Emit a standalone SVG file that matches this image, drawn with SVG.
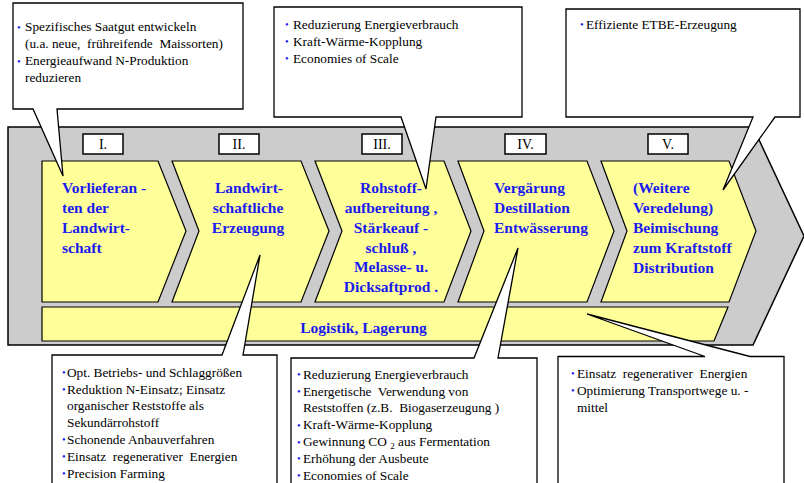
<svg xmlns="http://www.w3.org/2000/svg" width="804" height="483" viewBox="0 0 804 483">
<style>
.bg{fill:#CCCCCC;stroke:#000;stroke-width:1.5}
.ch{fill:#FFFF99;stroke:#000;stroke-width:1.2}
.num{fill:#fff;stroke:#000;stroke-width:1.5}
text{font-family:'Liberation Serif','Times New Roman','DejaVu Serif',serif}
.numt{font-size:14px;fill:#000;text-anchor:middle}
.st{font-size:15.5px;font-weight:bold;fill:#1A1AF0}
.mid{text-anchor:middle}
.co{fill:#fff;stroke:#000;stroke-width:1.3}
.ct{font-size:13.3px;fill:#000;white-space:pre}
.bu{font-size:10.5px;fill:#1A1AF0}
</style>

<g id="background">
<polygon class="bg" points="8,127 753,127 804,236 753,345 8,345"/>
</g>

<g id="stage1">
<rect class="num" x="83" y="134" width="40" height="20"/>
<text class="numt" x="103" y="149" font-family="Liberation Serif">I.</text>
<polygon class="ch" points="42,161 158,161 186,231 158,302 42,302"/>
<text class="st" x="62" y="193" font-family="Liberation Serif">Vorlieferan -</text>
<text class="st" x="62" y="213" font-family="Liberation Serif">ten der</text>
<text class="st" x="62" y="233" font-family="Liberation Serif">Landwirt-</text>
<text class="st" x="62" y="253" font-family="Liberation Serif">schaft</text>
</g>

<g id="stage2">
<rect class="num" x="219" y="134" width="40" height="20"/>
<text class="numt" x="239" y="149" font-family="Liberation Serif">II.</text>
<polygon class="ch" points="172,161 301,161 329,231 301,302 172,302 199,231"/>
<text class="st mid" x="249" y="193" font-family="Liberation Serif">Landwirt-</text>
<text class="st mid" x="248" y="213" font-family="Liberation Serif">schaftliche</text>
<text class="st mid" x="248" y="233" font-family="Liberation Serif">Erzeugung</text>
</g>

<g id="stage3">
<rect class="num" x="362" y="134" width="40" height="20"/>
<text class="numt" x="382" y="149" font-family="Liberation Serif">III.</text>
<polygon class="ch" points="315,161 444,161 471,231 444,302 315,302 342,231"/>
<text class="st mid" x="391" y="193" font-family="Liberation Serif">Rohstoff-</text>
<text class="st mid" x="391" y="213" font-family="Liberation Serif">aufbereitung ,</text>
<text class="st mid" x="391" y="233" font-family="Liberation Serif">Stärkeauf -</text>
<text class="st mid" x="391" y="253" font-family="Liberation Serif">schluß ,</text>
<text class="st mid" x="391" y="272" font-family="Liberation Serif">Melasse- u.</text>
<text class="st mid" x="391" y="292" font-family="Liberation Serif">Dicksaftprod .</text>
</g>

<g id="stage4">
<rect class="num" x="505" y="134" width="41" height="20"/>
<text class="numt" x="525.5" y="149" font-family="Liberation Serif">IV.</text>
<polygon class="ch" points="458,161 587,161 614,231 587,302 458,302 484,231"/>
<text class="st" x="494" y="193" font-family="Liberation Serif">Vergärung</text>
<text class="st" x="494" y="213" font-family="Liberation Serif">Destillation</text>
<text class="st" x="494" y="233" font-family="Liberation Serif">Entwässerung</text>
</g>

<g id="stage5">
<rect class="num" x="648" y="134" width="40" height="20"/>
<text class="numt" x="668" y="149" font-family="Liberation Serif">V.</text>
<polygon class="ch" points="601,161 729,161 756,231 729,302 601,302 627,231"/>
<text class="st" x="633" y="193" font-family="Liberation Serif">(Weitere</text>
<text class="st" x="633" y="213" font-family="Liberation Serif">Veredelung)</text>
<text class="st" x="633" y="233" font-family="Liberation Serif">Beimischung</text>
<text class="st" x="633" y="253" font-family="Liberation Serif">zum Kraftstoff</text>
<text class="st" x="633" y="273" font-family="Liberation Serif">Distribution</text>
</g>

<g id="logistik">
<polygon class="ch" points="42,307 728,307 714,341 42,341"/>
<text class="st mid" x="363.5" y="333" font-family="Liberation Serif">Logistik, Lagerung</text>
</g>

<g id="connectors">
<g id="callout-top-left">
<path class="co" d="M13,3 H243 V109 H57 L63,176 L33,109 H13 Z"/>
<text class="bu" x="17" y="30.5" font-family="Liberation Serif">•</text>
<text class="ct" x="25" y="31" font-family="Liberation Serif">Spezifisches Saatgut entwickeln</text>
<text class="ct" x="25" y="48" font-family="Liberation Serif">(u.a. neue,  frühreifende  Maissorten)</text>
<text class="bu" x="17" y="64.5" font-family="Liberation Serif">•</text>
<text class="ct" x="25" y="65" font-family="Liberation Serif">Energieaufwand N-Produktion</text>
<text class="ct" x="25" y="82" font-family="Liberation Serif">reduzieren</text>
</g>

<g id="callout-top-mid">
<path class="co" d="M274,7 H522 V117 H436 L426,189 L401,117 H274 Z"/>
<text class="bu" x="285" y="28" font-family="Liberation Serif">•</text>
<text class="ct" x="293" y="28.5" font-family="Liberation Serif">Reduzierung Energieverbrauch</text>
<text class="bu" x="285" y="45" font-family="Liberation Serif">•</text>
<text class="ct" x="293" y="45.5" font-family="Liberation Serif">Kraft-Wärme-Kopplung</text>
<text class="bu" x="285" y="62" font-family="Liberation Serif">•</text>
<text class="ct" x="293" y="62.5" font-family="Liberation Serif">Economies of Scale</text>
</g>

<g id="callout-top-right">
<path class="co" d="M566,9 H800 V117 H775 L723,190 L753,117 H566 Z"/>
<text class="bu" x="580" y="28" font-family="Liberation Serif">•</text>
<text class="ct" x="586" y="28.5" font-family="Liberation Serif">Effiziente ETBE-Erzeugung</text>
</g>

<g id="callout-bottom-left">
<path class="co" d="M52,355 H222 L260,255 L243,355 H277 V492 H52 Z"/>
<text class="bu" x="62" y="376" font-family="Liberation Serif">•</text>
<text class="ct" x="67" y="376.5" font-family="Liberation Serif">Opt. Betriebs- und Schlaggrößen</text>
<text class="bu" x="62" y="393" font-family="Liberation Serif">•</text>
<text class="ct" x="67" y="393.5" font-family="Liberation Serif">Reduktion N-Einsatz; Einsatz</text>
<text class="ct" x="67" y="410" font-family="Liberation Serif">organischer Reststoffe als</text>
<text class="ct" x="67" y="426.5" font-family="Liberation Serif">Sekundärrohstoff</text>
<text class="bu" x="62" y="443" font-family="Liberation Serif">•</text>
<text class="ct" x="67" y="443.5" font-family="Liberation Serif">Schonende Anbauverfahren</text>
<text class="bu" x="62" y="460" font-family="Liberation Serif">•</text>
<text class="ct" x="67" y="460.5" font-family="Liberation Serif">Einsatz  regenerativer  Energien</text>
<text class="bu" x="62" y="477" font-family="Liberation Serif">•</text>
<text class="ct" x="67" y="477.5" font-family="Liberation Serif">Precision Farming</text>
</g>

<g id="callout-bottom-mid">
<path class="co" d="M291,358 H474 L518,248 L498,358 H537 V492 H291 Z"/>
<text class="bu" x="297" y="378" font-family="Liberation Serif">•</text>
<text class="ct" x="303" y="378.5" font-family="Liberation Serif">Reduzierung Energieverbrauch</text>
<text class="bu" x="297" y="395" font-family="Liberation Serif">•</text>
<text class="ct" x="303" y="395.5" font-family="Liberation Serif">Energetische  Verwendung von</text>
<text class="ct" x="303" y="412" font-family="Liberation Serif">Reststoffen (z.B.  Biogaserzeugung )</text>
<text class="bu" x="297" y="429" font-family="Liberation Serif">•</text>
<text class="ct" x="303" y="429" font-family="Liberation Serif">Kraft-Wärme-Kopplung</text>
<text class="bu" x="297" y="446" font-family="Liberation Serif">•</text>
<text class="ct" x="303" y="446" font-family="Liberation Serif">Gewinnung CO <tspan font-size="9" dy="3">2</tspan><tspan dy="-3"> aus Fermentation</tspan></text>
<text class="bu" x="297" y="462" font-family="Liberation Serif">•</text>
<text class="ct" x="303" y="462.5" font-family="Liberation Serif">Erhöhung der Ausbeute</text>
<text class="bu" x="297" y="479" font-family="Liberation Serif">•</text>
<text class="ct" x="303" y="479.5" font-family="Liberation Serif">Economies of Scale</text>
</g>

<g id="callout-bottom-right">
<path class="co" d="M558,356.5 H705 L587,314 L750,356.5 H784 V492 H558 Z"/>
<text class="bu" x="571" y="377" font-family="Liberation Serif">•</text>
<text class="ct" x="577" y="377.5" font-family="Liberation Serif">Einsatz  regenerativer  Energien</text>
<text class="bu" x="571" y="394" font-family="Liberation Serif">•</text>
<text class="ct" x="577" y="394.5" font-family="Liberation Serif">Optimierung Transportwege u. -</text>
<text class="ct" x="577" y="411.5" font-family="Liberation Serif">mittel</text>
</g>
</g>
</svg>
